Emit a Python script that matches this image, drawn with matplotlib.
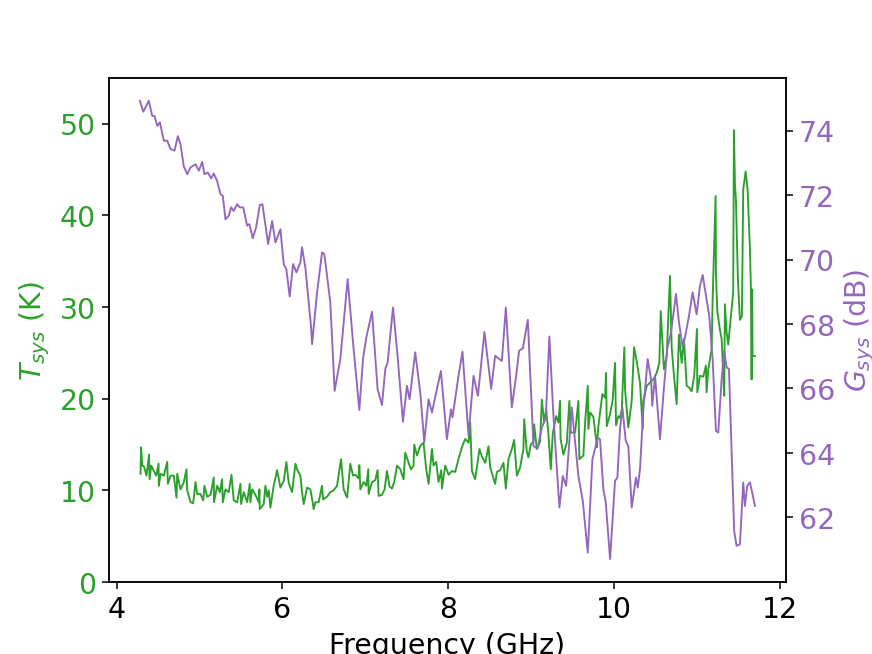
import matplotlib
matplotlib.use("Agg")
import matplotlib.pyplot as plt

# system temperature, Tsys (K)
freq_t = [
    4.289, 4.295, 4.310, 4.331, 4.361, 4.392, 4.398, 4.418, 4.449, 4.478,
    4.506, 4.510, 4.530, 4.570, 4.611, 4.618, 4.651, 4.690, 4.723, 4.731,
    4.771, 4.811, 4.843, 4.852, 4.892, 4.924, 4.952, 4.972, 5.012, 5.045,
    5.060, 5.093, 5.133, 5.172, 5.175, 5.213, 5.245, 5.273, 5.281, 5.313,
    5.353, 5.386, 5.413, 5.454, 5.494, 5.502, 5.534, 5.575, 5.606, 5.614,
    5.635, 5.675, 5.714, 5.723, 5.727, 5.775, 5.795, 5.816, 5.835, 5.855,
    5.895, 5.936, 5.976, 6.016, 6.048, 6.076, 6.117, 6.157, 6.177, 6.217,
    6.237, 6.257, 6.298, 6.337, 6.365, 6.377, 6.398, 6.437, 6.478, 6.490,
    6.539, 6.578, 6.618, 6.659, 6.707, 6.739, 6.780, 6.819, 6.852, 6.880,
    6.919, 6.928, 6.940, 6.980, 7.012, 7.036, 7.040, 7.081, 7.120, 7.148,
    7.160, 7.201, 7.233, 7.261, 7.293, 7.322, 7.349, 7.382, 7.422, 7.461,
    7.482, 7.522, 7.551, 7.582, 7.590, 7.623, 7.663, 7.702, 7.735, 7.763,
    7.804, 7.823, 7.855, 7.883, 7.916, 7.924, 7.964, 8.004, 8.045, 8.084,
    8.124, 8.165, 8.205, 8.245, 8.265, 8.286, 8.325, 8.377, 8.406, 8.446,
    8.486, 8.506, 8.566, 8.587, 8.627, 8.666, 8.695, 8.727, 8.767, 8.795,
    8.828, 8.867, 8.907, 8.916, 8.948, 8.967, 8.996, 9.028, 9.036, 9.069,
    9.108, 9.129, 9.157, 9.181, 9.208, 9.237, 9.261, 9.301, 9.329, 9.349,
    9.355, 9.389, 9.430, 9.461, 9.478, 9.530, 9.570, 9.582, 9.630, 9.651,
    9.683, 9.690, 9.711, 9.751, 9.783, 9.792, 9.811, 9.859, 9.892, 9.904,
    9.912, 9.952, 9.984, 10.012, 10.024, 10.052, 10.072, 10.093, 10.124, 10.133,
    10.172, 10.213, 10.241, 10.273, 10.313, 10.346, 10.353, 10.394, 10.434, 10.474,
    10.514, 10.546, 10.563, 10.602, 10.635, 10.675, 10.695, 10.723, 10.755, 10.783,
    10.816, 10.843, 10.876, 10.907, 10.936, 10.967, 11.000, 11.004, 11.036, 11.076,
    11.108, 11.116, 11.136, 11.177, 11.189, 11.225, 11.229, 11.245, 11.277, 11.298,
    11.317, 11.329, 11.337, 11.358, 11.377, 11.410, 11.437, 11.446, 11.458, 11.470,
    11.494, 11.518, 11.542, 11.558, 11.587, 11.611, 11.639, 11.651, 11.659, 11.666,
    11.671, 11.699,
]
tsys = [
    11.8, 14.7, 12.7, 12.6, 11.6, 13.9, 11.2, 12.7, 12.1, 11.6,
    12.9, 10.5, 11.8, 11.6, 13.1, 10.7, 11.6, 11.6, 9.2, 11.8,
    10.1, 10.9, 12.3, 10.0, 8.7, 8.6, 10.9, 9.6, 9.6, 8.9,
    10.5, 9.3, 9.5, 11.4, 8.7, 10.5, 9.8, 11.2, 8.7, 10.1,
    9.8, 11.7, 8.9, 8.7, 10.7, 8.5, 9.8, 8.7, 10.7, 8.7,
    10.1, 9.5, 8.7, 10.1, 7.95, 8.5, 10.5, 9.3, 10.0, 8.1,
    10.5, 12.2, 10.3, 11.0, 13.1, 10.8, 9.8, 12.9, 12.3, 11.6,
    9.8, 8.5, 10.3, 10.1, 8.7, 7.95, 8.7, 8.7, 10.5, 9.0,
    9.3, 9.8, 10.0, 10.5, 13.4, 10.1, 9.2, 12.9, 11.6, 11.7,
    11.3, 12.75, 10.1, 10.9, 10.5, 12.3, 9.6, 10.9, 11.1, 12.2,
    9.4, 9.5, 10.1, 12.1, 10.4, 10.2, 10.9, 12.7, 12.3, 11.2,
    14.1, 13.0, 12.3, 12.7, 15.0, 13.8, 14.85, 15.2, 12.3, 10.7,
    14.5, 12.7, 13.1, 10.9, 12.2, 10.2, 12.7, 11.7, 12.1, 12.0,
    13.4, 14.7, 15.6, 15.2, 17.4, 12.1, 11.2, 14.5, 13.7, 13.0,
    14.8, 12.5, 10.7, 12.0, 12.2, 13.0, 10.2, 13.4, 14.5, 15.5,
    11.6, 12.5, 14.5, 17.75, 14.2, 13.6, 15.0, 15.3, 17.2, 14.5,
    15.3, 19.9, 17.4, 18.85, 16.2, 12.3, 16.2, 18.1, 17.4, 19.75,
    15.6, 13.9, 15.2, 19.75, 16.3, 16.3, 19.75, 13.4, 13.8, 17.4,
    21.4, 16.7, 18.5, 18.0, 15.6, 14.7, 17.0, 20.5, 20.1, 22.8,
    17.0, 18.3, 19.9, 23.9, 17.1, 18.1, 17.9, 18.8, 25.6, 21.0,
    16.85, 19.75, 25.6, 24.1, 21.75, 16.7, 19.75, 21.4, 21.75, 22.1,
    22.8, 23.9, 29.55, 23.2, 24.65, 33.4, 25.6, 22.5, 19.4, 27.0,
    23.9, 26.5, 21.4, 21.2, 20.8, 22.5, 27.6, 20.7, 22.5, 22.4,
    23.6, 20.7, 23.2, 25.4, 30.8, 42.1, 33.7, 29.55, 27.5, 26.5,
    22.5, 20.3, 30.3, 27.2, 25.9, 29.0, 31.6, 49.3, 43.4, 41.7,
    33.0, 28.6, 29.0, 42.8, 44.8, 42.8, 36.3, 31.9, 22.1, 31.9,
    24.65, 24.65,
]

# system gain, Gsys (dB)
freq_g = [
    4.281, 4.322, 4.389, 4.430, 4.458, 4.490, 4.522, 4.570, 4.611, 4.651,
    4.699, 4.739, 4.771, 4.811, 4.852, 4.892, 4.952, 4.992, 5.033, 5.060,
    5.100, 5.141, 5.172, 5.213, 5.253, 5.281, 5.313, 5.353, 5.382, 5.413,
    5.454, 5.486, 5.527, 5.575, 5.602, 5.642, 5.683, 5.727, 5.759, 5.828,
    5.876, 5.916, 5.976, 6.016, 6.048, 6.088, 6.129, 6.169, 6.217, 6.237,
    6.277, 6.346, 6.358, 6.418, 6.478, 6.506, 6.578, 6.630, 6.699, 6.787,
    6.859, 6.928, 6.972, 7.012, 7.081, 7.148, 7.201, 7.241, 7.269, 7.334,
    7.389, 7.454, 7.502, 7.534, 7.602, 7.663, 7.711, 7.763, 7.804, 7.864,
    7.912, 7.984, 8.033, 8.052, 8.124, 8.172, 8.245, 8.305, 8.358, 8.437,
    8.518, 8.566, 8.647, 8.695, 8.767, 8.819, 8.855, 8.900, 8.960, 9.028,
    9.076, 9.129, 9.177, 9.220, 9.269, 9.341, 9.382, 9.422, 9.490, 9.570,
    9.623, 9.683, 9.739, 9.804, 9.831, 9.871, 9.900, 9.952, 10.012, 10.040,
    10.072, 10.100, 10.141, 10.172, 10.213, 10.265, 10.286, 10.313, 10.353, 10.406,
    10.446, 10.461, 10.494, 10.554, 10.594, 10.642, 10.687, 10.747, 10.783, 10.828,
    10.855, 10.904, 10.948, 10.996, 11.036, 11.069, 11.116, 11.148, 11.189, 11.229,
    11.257, 11.298, 11.329, 11.358, 11.386, 11.449, 11.478, 11.518, 11.558, 11.578,
    11.606, 11.639, 11.671, 11.699,
]
gsys = [
    74.93, 74.59, 74.93, 74.46, 74.46, 74.15, 74.26, 73.69, 73.69, 73.43,
    73.38, 73.83, 73.58, 72.89, 72.65, 72.86, 72.96, 72.76, 73.03, 72.65,
    72.70, 72.52, 72.67, 72.44, 72.03, 71.98, 71.25, 71.36, 71.62, 71.51,
    71.72, 71.62, 71.62, 71.05, 71.10, 70.66, 71.00, 71.69, 71.72, 70.48,
    71.20, 70.53, 70.94, 69.86, 69.70, 68.85, 69.86, 69.60, 69.91, 70.38,
    69.75, 67.90, 67.37, 68.98, 70.22, 70.17, 68.67, 65.92, 66.91, 69.39,
    67.22, 65.33, 66.91, 67.58, 68.38, 65.98, 65.48, 66.60, 66.80, 68.51,
    67.01, 64.96, 66.08, 65.66, 67.12, 65.87, 64.32, 65.66, 65.25, 65.98,
    66.54, 64.42, 65.35, 65.10, 66.39, 67.14, 64.53, 66.39, 65.77, 67.75,
    65.98, 67.01, 66.85, 68.51, 65.41, 66.39, 67.17, 67.24, 68.13, 64.21,
    64.13, 64.78, 65.10, 67.61, 65.15, 62.30, 63.28, 62.97, 65.41, 63.28,
    62.51, 60.90, 63.80, 64.47, 64.42, 62.87, 62.46, 60.70, 63.13, 63.23,
    64.73, 65.41, 64.37, 64.21, 62.30, 63.23, 62.92, 63.49, 65.35, 66.91,
    66.29, 65.46, 66.39, 64.42, 65.77, 67.24, 67.74, 68.93, 68.05, 67.27,
    67.58, 68.25, 68.98, 68.30, 69.18, 69.52, 68.77, 68.25, 66.91, 64.68,
    64.63, 66.29, 67.17, 66.65, 66.60, 61.57, 61.11, 61.16, 63.08, 62.35,
    62.97, 63.08, 62.71, 62.35,
]

GREEN = "#2ca02c"
PURPLE = "#9467bd"
FS = 15

fig, ax1 = plt.subplots(figsize=(6.4, 4.8), dpi=136.4)

ax1.plot(freq_t, tsys, color=GREEN, lw=1.0)
ax1.set_xlabel("Frequency (GHz)", fontsize=FS)
ax1.set_ylabel("$T_{sys}$ (K)", color=GREEN, fontsize=FS)
ax1.tick_params(axis="y", labelcolor=GREEN, labelsize=FS)
ax1.tick_params(axis="x", labelsize=FS)
ax1.set_ylim(0, 55)
ax1.set_xticks([4, 6, 8, 10, 12])

ax2 = ax1.twinx()
ax2.plot(freq_g, gsys, color=PURPLE, lw=1.0)
ax2.set_ylabel("$G_{sys}$ (dB)", color=PURPLE, fontsize=FS)
ax2.tick_params(axis="y", labelcolor=PURPLE, labelsize=FS)
ax2.set_yticks([62, 64, 66, 68, 70, 72, 74])

fig.savefig("out.png", dpi=136.4)
